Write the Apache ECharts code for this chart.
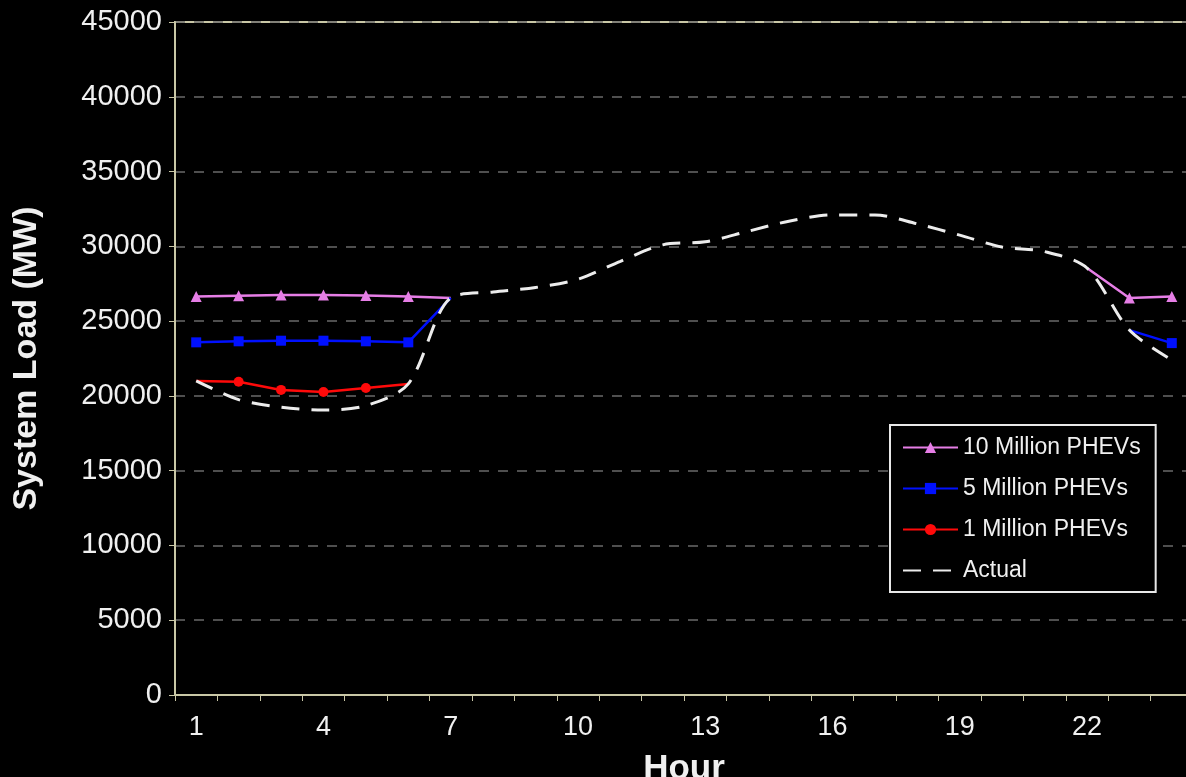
<!DOCTYPE html>
<html><head><meta charset="utf-8">
<script src="https://cdn.jsdelivr.net/npm/echarts@6/dist/echarts.min.js"></script>
<style>html,body{margin:0;padding:0;background:#000;overflow:hidden;}#c{width:1186px;height:777px;}</style>
</head><body><div id="c"></div>
<script>
const hours = ['1','2','3','4','5','6','7','8','9','10','11','12','13','14','15','16','17','18','19','20','21','22','23','24'];
const actual = [21000,19750,19250,19050,19350,20800,26550,26950,27250,27800,29000,30100,30300,31000,31700,32100,32100,31500,30750,29950,29650,28550,24400,22400];
const tenMillion = [26650,26700,26750,26750,26720,26650,26550,null,null,null,null,null,null,null,null,null,null,null,null,null,null,28550,26550,26650];
const fiveMillion = [23580,23650,23690,23690,23650,23580,26550,null,null,null,null,null,null,null,null,null,null,null,null,null,null,null,24400,23530];
const oneMillion = [21000,20950,20400,20260,20530,20800,null,null,null,null,null,null,null,null,null,null,null,null,null,null,null,null,null,null];
const seriesNames = ['10 Million PHEVs','5 Million PHEVs','1 Million PHEVs','Actual'];

function withJunctions(arr){
  return arr.map((v,i)=> (v!==null && v===actual[i]) ? {value:v, symbol:'none'} : v);
}
const axisCol = '#c9c7a6';
const font = '"Liberation Sans", Arial, sans-serif';
const chart = echarts.init(document.getElementById('c'));
chart.setOption({
  backgroundColor:'#000',
  animation:false,
  grid:{left:175, top:22, width:1018, bottom:82, show:true, borderColor:axisCol, borderWidth:2,
        containLabel:false, outerBoundsMode:'none'},
  legend:{
    orient:'vertical', left:890, top:425,
    padding:[11,15,10,12], itemGap:18, itemWidth:55, itemHeight:14,
    borderColor:'#e8e8e8', borderWidth:2, backgroundColor:'#000',
    textStyle:{color:'#f0f0f0', fontSize:23, fontFamily:font},
    data:[seriesNames[0],seriesNames[1],seriesNames[2],{name:seriesNames[3], itemStyle:{opacity:0}}]
  },
  xAxis:{
    type:'category', data:hours, boundaryGap:true,
    axisLine:{lineStyle:{color:axisCol, width:2}},
    axisTick:{show:true, length:6, lineStyle:{color:axisCol}, interval:0},
    axisLabel:{color:'#f0f0f0', fontSize:27, fontFamily:font, margin:19, interval:(i)=> i%3===0},
    name:'Hour', nameLocation:'middle', nameGap:57,
    nameTextStyle:{color:'#f0f0f0', fontSize:35, fontWeight:'bold', fontFamily:font},
    splitLine:{show:false}
  },
  yAxis:{
    type:'value', min:0, max:45000, interval:5000,
    axisLine:{show:true, lineStyle:{color:axisCol, width:2}},
    axisTick:{show:true, length:6, lineStyle:{color:axisCol}},
    axisLabel:{color:'#f0f0f0', fontSize:29, fontFamily:font, margin:13, formatter:(v)=>String(v)},
    name:'System Load (MW)', nameLocation:'middle', nameGap:131, nameRotate:90,
    nameTextStyle:{color:'#f0f0f0', fontSize:34, fontWeight:'bold', fontFamily:font},
    splitLine:{show:true, lineStyle:{color:'#6a6a6a', type:[10,9], width:1.5}}
  },
  series:[
    {name:seriesNames[0], type:'line', data:withJunctions(tenMillion), symbol:'triangle', symbolSize:11,
     itemStyle:{color:'#e67ee6'}, lineStyle:{color:'#e67ee6', width:2.5}, z:3},
    {name:seriesNames[1], type:'line', data:withJunctions(fiveMillion), symbol:'rect', symbolSize:10,
     itemStyle:{color:'#0010ff'}, lineStyle:{color:'#0010ff', width:2.5}, z:3},
    {name:seriesNames[2], type:'line', data:withJunctions(oneMillion), symbol:'circle', symbolSize:10,
     itemStyle:{color:'#ff0a0a'}, lineStyle:{color:'#ff0a0a', width:2.5}, z:3},
    {name:seriesNames[3], type:'line', data:actual, symbol:'none', smooth:0.3,
     itemStyle:{color:'#ececec'}, lineStyle:{color:'#ececec', width:3, type:[18,12]}, z:4}
  ]
});
</script></body></html>
